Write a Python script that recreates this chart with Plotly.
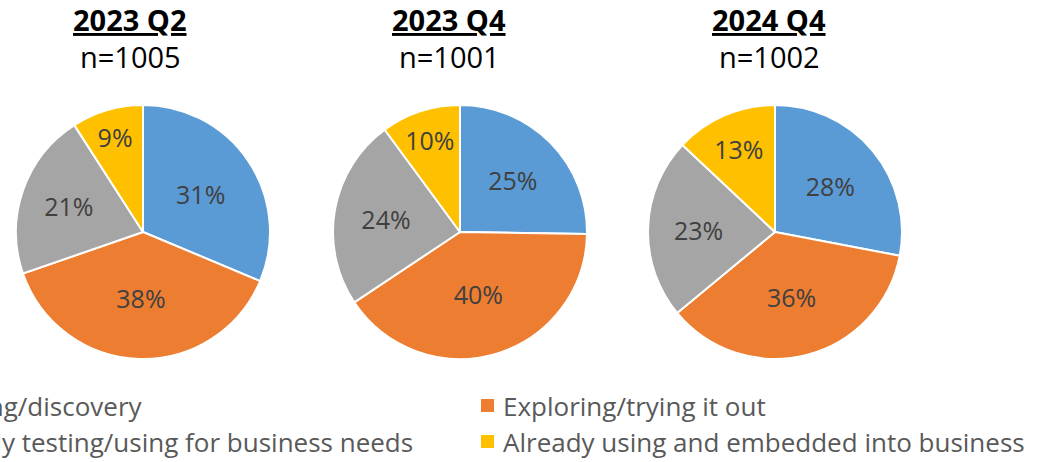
import plotly.graph_objects as go

W, H = 1043, 462

categories = ["Learning/discovery", "Exploring/trying it out",
              "Actively testing/using for business needs",
              "Already using and embedded into business"]
colors = ["#5B9BD5", "#ED7D31", "#A5A5A5", "#FFC000"]

periods = ["2023 Q2", "2023 Q4", "2024 Q4"]
sample_sizes = [1005, 1001, 1002]
values_2023q2 = [31, 38, 21, 9]
values_2023q4 = [25, 40, 24, 10]
values_2024q4 = [28, 36, 23, 13]
series = [values_2023q2, values_2023q4, values_2024q4]

FONT = "Open Sans"
pie_cx = [143, 460, 775]
pie_cy = 232
pie_r = 127
title_cx = [130, 449, 769]

fig = go.Figure()
for i, vals in enumerate(series):
    cx = pie_cx[i]
    fig.add_trace(go.Pie(
        labels=categories, values=vals, sort=False, direction="clockwise",
        rotation=0,
        marker=dict(colors=colors, line=dict(color="white", width=2)),
        texttemplate="%{value}%", textposition="inside",
        insidetextorientation="horizontal",
        textfont=dict(family=FONT, size=25, color="#404040"),
        hoverinfo="label+value",
        showlegend=False,
        domain=dict(x=[(cx - pie_r) / W, (cx + pie_r) / W],
                    y=[(H - pie_cy - pie_r) / H, (H - pie_cy + pie_r) / H]),
    ))

annotations = []
for i, p in enumerate(periods):
    annotations.append(dict(
        x=title_cx[i] / W, y=1 - 20 / H, xref="paper", yref="paper",
        text=f"<b><u>{p}</u></b>", showarrow=False,
        xanchor="center", yanchor="middle",
        font=dict(family=FONT, size=29, color="black")))
    annotations.append(dict(
        x=title_cx[i] / W, y=1 - 57 / H, xref="paper", yref="paper",
        text=f"n={sample_sizes[i]}", showarrow=False,
        xanchor="center", yanchor="middle",
        font=dict(family=FONT, size=29, color="black")))

# legend (left column is cut off by the frame)
shapes = []
legend_rows_y = [406, 442]
left_right_edges = [145, 415]
# left column: blue, gray ; right column: orange, yellow
left_items = [0, 2]
right_items = [1, 3]
for r, idx in enumerate(left_items):
    annotations.append(dict(
        x=left_right_edges[r] / W, y=1 - legend_rows_y[r] / H,
        xref="paper", yref="paper", text=categories[idx], showarrow=False,
        xanchor="right", yanchor="middle",
        font=dict(family=FONT, size=26, color="#595959")))
for r, idx in enumerate(right_items):
    y = legend_rows_y[r]
    shapes.append(dict(type="rect", xref="paper", yref="paper",
                       x0=481 / W, x1=494 / W,
                       y0=1 - (y + 6) / H, y1=1 - (y - 7) / H,
                       fillcolor=colors[idx], line=dict(width=0)))
    annotations.append(dict(
        x=501 / W, y=1 - y / H, xref="paper", yref="paper",
        text=categories[idx], showarrow=False,
        xanchor="left", yanchor="middle",
        font=dict(family=FONT, size=26, color="#595959")))

fig.update_layout(
    width=W, height=H, margin=dict(l=0, r=0, t=0, b=0),
    paper_bgcolor="white", plot_bgcolor="white",
    annotations=annotations, shapes=shapes,
)
fig.write_html("out.html")
